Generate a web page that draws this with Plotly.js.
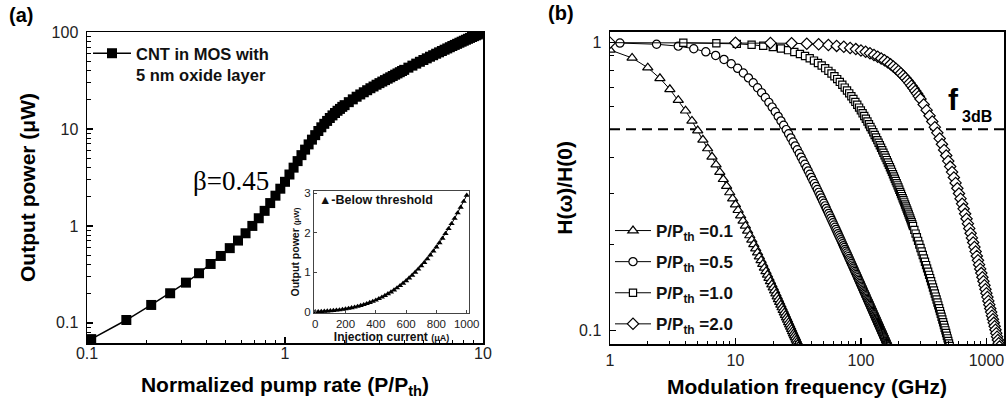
<!DOCTYPE html>
<html>
<head>
<meta charset="utf-8">
<script src="https://cdn.plot.ly/plotly-3.0.1.min.js"></script>
<style>html,body{margin:0;padding:0;background:#fff}#chart{width:1006px;height:408px}</style>
</head>
<body>
<div id="chart"></div>
<script>
// ---------- Panel (a): output power vs normalized pump rate ----------
const pumpRate = [0.105,0.158,0.211,0.263,0.316,0.368,0.421,0.474,0.526,0.579,0.632,0.684,0.737,0.789,0.842,0.895,0.947,1.0,
  1.053,1.105,1.158,1.211,1.263,1.316,1.368,1.421,1.474,1.526,1.579,1.632,1.684,1.737,1.789,1.842,1.895,1.947,2.0,
  2.1,2.2,2.3,2.4,2.5,2.6,2.7,2.8,2.9,3.0,3.1,3.2,3.3,3.4,3.5,3.6,3.7,3.8,3.9,4.0,
  4.2,4.4,4.6,4.8,5.0,5.2,5.4,5.6,5.8,6.0,6.2,6.4,6.6,6.8,7.0,7.2,7.4,7.6,7.8,8.0,8.2,8.4,8.6,8.8,9.0,9.2,9.4,9.6,9.8,10.0];
const outputPower = [0.068,0.107,0.153,0.202,0.26,0.325,0.405,0.49,0.59,0.706,0.84,1.0,1.2,1.43,1.72,2.05,2.42,2.85,
  3.39,3.99,4.66,5.37,6.12,6.93,7.76,8.63,9.53,10.4,11.3,12.1,12.97,13.8,14.6,15.4,16.1,16.9,17.6,
  18.9,20.2,21.5,22.7,23.9,25.1,26.3,27.4,28.6,29.7,30.8,31.9,33.0,34.1,35.2,36.3,37.4,38.5,39.6,40.7,
  42.9,45.0,47.2,49.3,51.4,53.5,55.6,57.6,59.7,61.7,63.7,65.7,67.7,69.7,71.7,73.6,75.5,77.5,79.4,81.3,83.2,85.1,86.9,88.8,90.6,92.4,94.2,96.1,97.9,100];
const seriesA = 'CNT in MOS with<br>5 nm oxide layer';

// Inset: below threshold
const injCurrent = [0,20,40,60,80,100,120,140,160,180,200,220,240,260,280,300,320,340,360,380,400,
  420,440,460,480,500,520,540,560,580,600,620,640,660,680,700,720,740,760,780,800,
  820,840,860,880,900,920,940,960,980,1000];
const belowPower = [0.0,0.004,0.008,0.013,0.019,0.025,0.032,0.040,0.049,0.060,0.072,0.085,0.100,0.118,0.136,0.157,0.181,0.206,0.233,0.264,0.296,
  0.332,0.370,0.411,0.455,0.501,0.552,0.606,0.662,0.723,0.786,0.854,0.925,1.000,1.079,1.162,1.249,1.340,1.436,1.536,1.641,
  1.749,1.863,1.982,2.105,2.233,2.366,2.504,2.648,2.796,2.950];
const insetLabel = 'Below threshold';

// ---------- Panel (b): modulation response ----------
const fTri = [1,1.5,2,2.5,3,3.5,4,4.5,5,5.5,6,6.5,7,7.5,8,8.5,9,9.5,10,10.5,11,11.5,12,12.5,13,13.5,14,14.5,15,15.5,16,16.5,17,17.5,18,18.5,19,19.5,20,
  20.5,21,21.5,22,22.5,23,23.5,24,24.5,25,25.5,26,26.5,27,27.5,28,28.5,29,29.5,30,30.5,31,31.5,32,32.5,33];
const hTri = [0.9436,0.8849,0.8186,0.7518,0.6888,0.6314,0.5803,0.5351,0.4952,0.4601,0.4291,0.4015,0.3771,0.3552,0.3356,0.3179,0.3019,0.2874,0.2741,
  0.2620,0.2508,0.2405,0.2311,0.2223,0.2141,0.2066,0.1995,0.1929,0.1867,0.1808,0.1754,0.1702,0.1653,0.1607,0.1564,0.1523,0.1483,0.1446,0.1411,
  0.1377,0.1345,0.1314,0.1285,0.1257,0.1230,0.1204,0.1179,0.1155,0.1133,0.1111,0.1090,0.1069,0.1050,0.1031,0.1013,0.0995,0.0978,0.0962,0.0946,0.0930,0.0915,0.0901,0.0887,0.0874,0.0860];

const fCir = [1.2,2.35,3.5,4.65,5.8,6.95,8.1,9.25,10.4,11.55,12.7,13.85,15.0,16.15,17.3,18.45,19.6,20.75,21.9,23.05,24.2,25.35,26.5,27.65,28.8,29.95,
  31.1,32.25,33.4,34.55,35.7,36.85,38.0,39.15,40.3,41.45,42.6,43.75,44.9,46.05,47.2,48.35,49.5,50.65,51.8,52.95,54.1,55.25,56.4,57.55,58.7,59.85,
  61.0,62.15,63.3,64.45,65.6,66.75,67.9,69.05,70.2,71.35,72.5,73.65,74.8,75.95,77.1,78.25,79.4,80.55,81.7,82.85,
  84.0,85.15,86.3,87.45,88.6,89.75,90.9,92.05,93.2,94.35,95.5,96.65,97.8,98.95,100.1,101.25,102.4,103.55,104.7,105.85,
  107.0,108.15,109.3,110.45,111.6,112.75,113.9,115.05,116.2,117.35,118.5,119.65,120.8,121.95,123.1,124.25,125.4,126.55,127.7,128.85,
  130.0,131.15,132.3,133.45,134.6,135.75,136.9,138.05,139.2,140.35,141.5,142.65,143.8,144.95,146.1,147.25,148.4,149.55,150.7,151.85,
  153.0,154.15,155.3,156.45,157.6,158.75,159.9,161.05,162.2,163.35,164.5,165.65];
const hCir = [0.9966,0.9873,0.9725,0.9528,0.9294,0.9029,0.8744,0.8447,0.8145,0.7843,0.7545,0.7255,0.6975,0.6706,0.6449,0.6205,0.5974,0.5755,0.5547,0.5351,0.5166,0.4991,0.4826,0.4669,0.4522,0.4382,
  0.4250,0.4124,0.4005,0.3892,0.3785,0.3683,0.3587,0.3494,0.3406,0.3322,0.3242,0.3166,0.3092,0.3022,0.2955,0.2891,0.2829,0.2770,0.2713,0.2658,0.2605,0.2555,0.2506,0.2459,0.2414,0.2370,
  0.2328,0.2287,0.2248,0.2209,0.2173,0.2137,0.2102,0.2069,0.2036,0.2005,0.1974,0.1945,0.1916,0.1888,0.1861,0.1834,0.1809,0.1783,0.1759,0.1735,
  0.1712,0.1690,0.1668,0.1647,0.1626,0.1606,0.1586,0.1567,0.1548,0.1529,0.1511,0.1494,0.1476,0.1460,0.1443,0.1427,0.1412,0.1396,0.1381,0.1366,
  0.1352,0.1338,0.1324,0.1311,0.1297,0.1284,0.1271,0.1259,0.1247,0.1235,0.1223,0.1211,0.1200,0.1189,0.1178,0.1167,0.1157,0.1146,0.1136,0.1126,
  0.1116,0.1106,0.1097,0.1088,0.1078,0.1069,0.1060,0.1052,0.1043,0.1035,0.1026,0.1018,0.1010,0.1002,0.0994,0.0987,0.0979,0.0972,0.0964,0.0957,
  0.0950,0.0943,0.0936,0.0929,0.0922,0.0916,0.0909,0.0903,0.0896,0.0890,0.0884,0.0878];

const fSq = [3.84,7.04,10.24,13.44,16.64,19.84,23.04,26.24,29.44,32.64,35.84,39.04,42.24,45.44,48.64,51.84,55.04,58.24,61.44,64.64,67.84,71.04,74.24,77.44,80.64,
  83.84,87.04,90.24,93.44,96.64,99.84,103.04,106.24,109.44,112.64,115.84,119.04,122.24,125.44,128.64,131.84,
  135.04,138.24,141.44,144.64,147.84,151.04,154.24,157.44,160.64,163.84,167.04,170.24,173.44,176.64,179.84,183.04,186.24,189.44,192.64,195.84,
  199.04,202.24,205.44,208.64,211.84,215.04,218.24,221.44,224.64,227.84,231.04,234.24,237.44,240.64,243.84,247.04,250.24,253.44,256.64,259.84,
  266.24,272.64,279.04,285.44,291.84,298.24,304.64,311.04,317.44,323.84,330.24,336.64,343.04,349.44,355.84,362.24,368.64,375.04,381.44,387.84,
  394.24,400.64,407.04,413.44,419.84,426.24,432.64,439.04,445.44,451.84,458.24,464.64,471.04,477.44,483.84,490.24,496.64,503.04,509.44,515.84];
const hSq = [0.9986,0.9955,0.9905,0.9837,0.9754,0.9655,0.9542,0.9418,0.9282,0.9137,0.8985,0.8826,0.8662,0.8495,0.8326,0.8155,0.7983,0.7812,0.7641,0.7473,0.7307,0.7143,0.6982,0.6824,0.6669,
  0.6518,0.6371,0.6227,0.6087,0.5951,0.5818,0.5690,0.5564,0.5443,0.5325,0.5210,0.5098,0.4990,0.4885,0.4783,0.4684,
  0.4588,0.4495,0.4404,0.4316,0.4230,0.4147,0.4067,0.3988,0.3912,0.3837,0.3765,0.3695,0.3627,0.3560,0.3495,0.3432,0.3371,0.3311,0.3253,0.3196,
  0.3141,0.3087,0.3034,0.2983,0.2933,0.2884,0.2836,0.2790,0.2744,0.2700,0.2656,0.2614,0.2573,0.2532,0.2493,0.2454,0.2416,0.2379,0.2343,0.2308,
  0.2239,0.2174,0.2111,0.2051,0.1993,0.1937,0.1884,0.1833,0.1783,0.1736,0.1690,0.1646,0.1604,0.1563,0.1523,0.1486,0.1449,0.1413,0.1379,0.1346,
  0.1314,0.1283,0.1254,0.1225,0.1197,0.1170,0.1144,0.1118,0.1094,0.1070,0.1047,0.1024,0.1003,0.0982,0.0961,0.0941,0.0922,0.0904,0.0885,0.0868];

const fDia = [1,10,19,28,37,46,55,64,73,82,91,100,109,118,127,136,145,154,163,172,181,190,199,208,217,226,235,244,253,262,271,280,289,298,
  316,334,352,370,388,406,424,442,460,478,496,514,532,550,568,586,604,622,640,658,676,694,712,730,748,766,784,802,820,838,856,874,892,910,
  928,946,964,982,1000,1018,1036,1054,1072,1090,1108,1126,1144,1162,1180,1198,1216,1234,1252,1270];
const hDia = [1.0,0.9994,0.9977,0.9950,0.9913,0.9866,0.9810,0.9744,0.9670,0.9587,0.9496,0.9398,0.9292,0.9181,0.9063,0.8940,0.8813,0.8681,0.8545,0.8406,0.8265,0.8121,0.7976,0.7829,0.7682,0.7534,0.7386,0.7238,0.7091,0.6945,0.6800,0.6656,0.6513,0.6373,
  0.6098,0.5831,0.5574,0.5326,0.5089,0.4863,0.4646,0.4440,0.4244,0.4058,0.3881,0.3713,0.3554,0.3403,0.3260,0.3124,0.2996,0.2874,0.2758,0.2649,0.2545,0.2447,0.2353,0.2265,0.2180,0.2100,0.2025,0.1952,0.1883,0.1818,0.1756,0.1696,0.1639,0.1585,
  0.1534,0.1485,0.1438,0.1393,0.1350,0.1309,0.1269,0.1232,0.1195,0.1161,0.1128,0.1096,0.1065,0.1036,0.1008,0.0981,0.0954,0.0929,0.0905,0.0882];

const ratioLabels = ['0.1','0.5','1.0','2.0'];
const dashX = [1, 2000];
const dashLevel = [0.5, 0.5];

// ---------- styling ----------
const FONT = 'Arial, "Liberation Sans", Helvetica, sans-serif';
const W = 1006, H = 408;
const px = v => v / W;
const py = v => 1 - v / H;

const axisBase = {
  type: 'log', showgrid: false, zeroline: false,
  showline: true, linecolor: '#000', linewidth: 1.5, mirror: true,
  ticks: 'inside', ticklen: 6, tickwidth: 1.3, tickcolor: '#000',
  dtick: 1, exponentformat: 'none',
  tickfont: {family: FONT, size: 16, color: '#222'},
  minor: {ticks: 'inside', ticklen: 3.5, tickwidth: 1, tickcolor: '#000', dtick: 'D1'}
};

const openMarker = (sym, size) => ({symbol: sym, size: size, color: '#fff', line: {color: '#000', width: 1.2}});

const traces = [
  {x: pumpRate, y: outputPower, xaxis: 'x', yaxis: 'y', mode: 'lines+markers', name: seriesA,
   line: {color: '#000', width: 1.5}, marker: {symbol: 'square', size: 10, color: '#000'}, legend: 'legend'},
  {x: injCurrent, y: belowPower, xaxis: 'x3', yaxis: 'y3', mode: 'lines+markers', name: insetLabel, showlegend: false,
   line: {color: '#000', width: 1}, marker: {symbol: 'triangle-up', size: 5.5, color: '#000'}},
  {x: dashX, y: dashLevel, xaxis: 'x2', yaxis: 'y2', mode: 'lines', showlegend: false, hoverinfo: 'skip',
   line: {color: '#000', width: 2, dash: '10px,6px'}},
  {x: fTri, y: hTri, xaxis: 'x2', yaxis: 'y2', mode: 'lines+markers', name: 'P/P<sub>th</sub> =' + ratioLabels[0],
   line: {color: '#000', width: 1}, marker: openMarker('triangle-up', 9), legend: 'legend2', legendgroup: 'g1'},
  {x: fCir, y: hCir, xaxis: 'x2', yaxis: 'y2', mode: 'lines+markers', name: 'P/P<sub>th</sub> =' + ratioLabels[1],
   line: {color: '#000', width: 1}, marker: openMarker('circle', 8.2), legend: 'legend2', legendgroup: 'g2'},
  {x: fSq, y: hSq, xaxis: 'x2', yaxis: 'y2', mode: 'lines+markers', name: 'P/P<sub>th</sub> =' + ratioLabels[2],
   line: {color: '#000', width: 1}, marker: openMarker('square', 7.2), legend: 'legend2', legendgroup: 'g3'},
  {x: fDia, y: hDia, xaxis: 'x2', yaxis: 'y2', mode: 'lines+markers', name: 'P/P<sub>th</sub> =' + ratioLabels[3],
   line: {color: '#000', width: 1}, marker: openMarker('diamond', 8.7), legend: 'legend2', legendgroup: 'g4'}
];

const layout = {
  width: W, height: H,
  margin: {l: 0, r: 0, t: 0, b: 0},
  paper_bgcolor: '#fff', plot_bgcolor: '#fff',
  font: {family: FONT, color: '#000'},
  xaxis: Object.assign({}, axisBase, {
    domain: [px(87), px(483)], range: [-1, 1], anchor: 'y',
    ticklabelstandoff: -5,
    title: {text: 'Normalized pump rate (P/P<sub>th</sub>)', font: {family: FONT, size: 21, weight: 'bold', color: '#000'}, standoff: 16}
  }),
  yaxis: Object.assign({}, axisBase, {
    domain: [1 - 343 / H, 1 - 32 / H], range: [Math.log10(0.062), 2], anchor: 'x',
    ticklabelstandoff: 4,
    title: {text: 'Output power (μW)', font: {family: FONT, size: 21, weight: 'bold', color: '#000'}, standoff: 10}
  }),
  xaxis2: Object.assign({}, axisBase, {
    domain: [px(610), px(1004)], range: [0, 3.14], anchor: 'y2',
    ticklabelstandoff: 1,
    title: {text: 'Modulation frequency (GHz)', font: {family: FONT, size: 21, weight: 'bold', color: '#000'}, standoff: 11}
  }),
  yaxis2: Object.assign({}, axisBase, {
    domain: [1 - 344 / H, 1 - 31.7 / H], range: [-1.046, 0.038], anchor: 'x2',
    ticklabelstandoff: 4,
    title: {text: 'H(ω)/H(0)', font: {family: FONT, size: 21, weight: 'bold', color: '#000'}, standoff: 0}
  }),
  xaxis3: {
    domain: [px(314), px(469)], range: [-8, 1015], anchor: 'y3',
    showgrid: false, zeroline: false, showline: true, linecolor: '#444', linewidth: 1, mirror: true,
    ticks: 'inside', ticklen: 3, tickcolor: '#444', dtick: 200,
    tickfont: {family: FONT, size: 11.5, color: '#222'},
    title: {text: 'Injection current <span style="font-size:9px">(μA)</span>', font: {family: FONT, size: 12, weight: 'bold', color: '#111'}, standoff: 0}
  },
  yaxis3: {
    domain: [1 - 313 / H, 1 - 191 / H], range: [-0.03, 3.06], anchor: 'x3',
    showgrid: false, zeroline: false, showline: true, linecolor: '#444', linewidth: 1, mirror: true,
    ticks: 'inside', ticklen: 3, tickcolor: '#444', dtick: 1,
    tickfont: {family: FONT, size: 11.5, color: '#222'},
    title: {text: 'Output power <span style="font-size:8px">(μW)</span>', font: {family: FONT, size: 10.5, weight: 'bold', color: '#111'}, standoff: 2}
  },
  legend: {
    x: px(88), y: py(36), xanchor: 'left', yanchor: 'top', valign: 'top', itemwidth: 38,
    bgcolor: 'rgba(0,0,0,0)', borderwidth: 0,
    font: {family: FONT, size: 16.5, weight: 'bold', color: '#111'}
  },
  legend2: {
    x: px(610), y: py(213), xanchor: 'left', yanchor: 'top', itemwidth: 36,
    bgcolor: 'rgba(0,0,0,0)', borderwidth: 0, traceorder: 'grouped', tracegroupgap: 6,
    font: {family: FONT, size: 17, weight: 'bold', color: '#111'}
  },
  annotations: [
    {text: '(a)', xref: 'paper', yref: 'paper', x: px(7), y: py(2), xanchor: 'left', yanchor: 'top', showarrow: false,
     font: {family: FONT, size: 20, weight: 'bold', color: '#000'}},
    {text: '(b)', xref: 'paper', yref: 'paper', x: px(546), y: py(0), xanchor: 'left', yanchor: 'top', showarrow: false,
     font: {family: FONT, size: 20, weight: 'bold', color: '#000'}},
    {text: 'β=0.45', xref: 'paper', yref: 'paper', x: px(231), y: py(181), xanchor: 'center', yanchor: 'middle', showarrow: false,
     font: {family: '"Liberation Serif", "Times New Roman", serif', size: 27, color: '#000'}},
    {text: 'f', xref: 'paper', yref: 'paper', x: px(953), y: py(99), xanchor: 'center', yanchor: 'middle', showarrow: false,
     font: {family: FONT, size: 30, weight: 'bold', color: '#000'}},
    {text: '3dB', xref: 'paper', yref: 'paper', x: px(960), y: py(116), xanchor: 'left', yanchor: 'middle', showarrow: false,
     font: {family: FONT, size: 16, weight: 'bold', color: '#000'}},
    {text: '▲-' + insetLabel, xref: 'paper', yref: 'paper', x: px(317), y: py(200), xanchor: 'left', yanchor: 'middle', showarrow: false,
     font: {family: FONT, size: 12.5, weight: 'bold', color: '#111'}}
  ],
  showlegend: true
};

Plotly.newPlot('chart', traces, layout, {displayModeBar: false, staticPlot: true});
</script>
</body>
</html>
